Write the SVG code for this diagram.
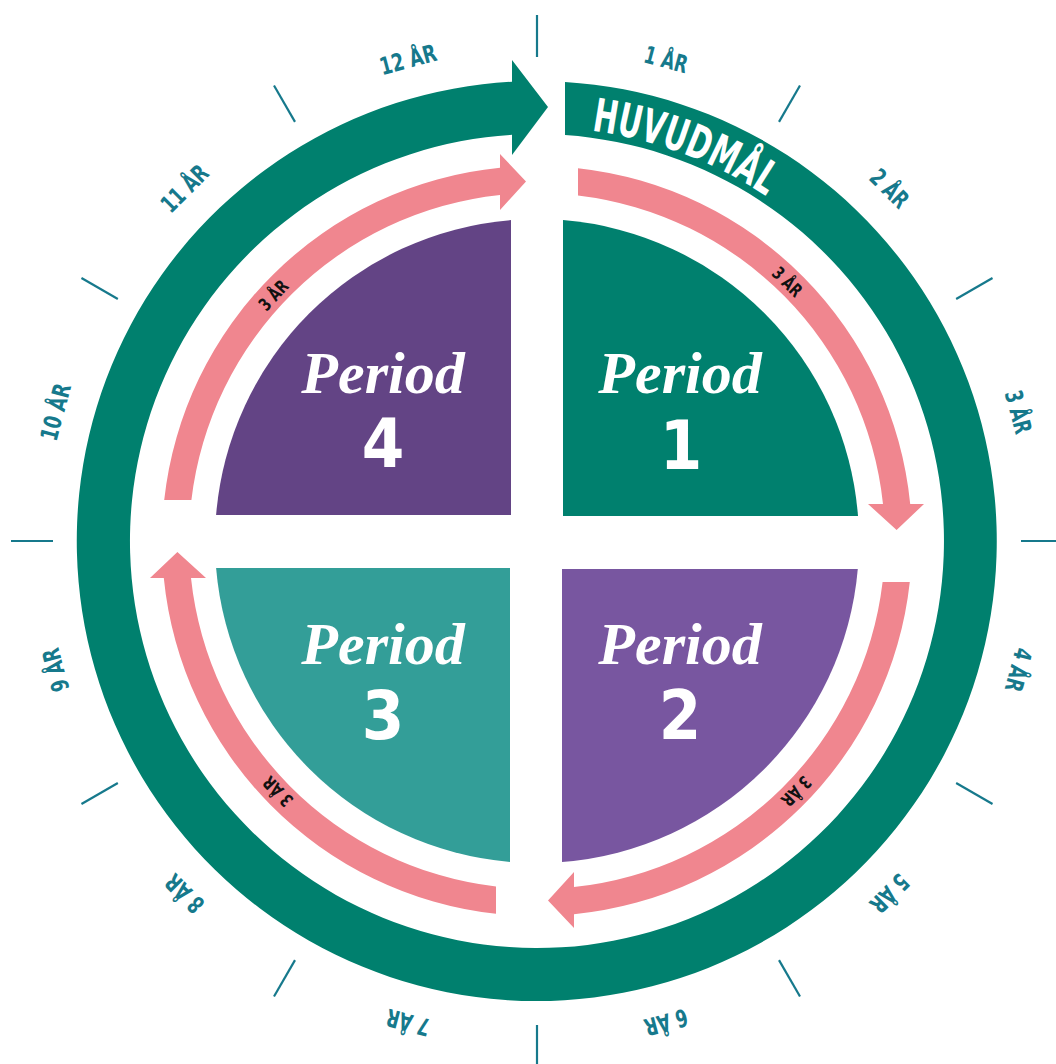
<svg xmlns="http://www.w3.org/2000/svg" width="1056" height="1064" viewBox="0 0 1056 1064">
<style>
.yr{font-family:"DejaVu Sans Condensed","DejaVu Sans",sans-serif;font-stretch:condensed;font-weight:bold;font-size:24px;fill:#16798C;text-anchor:middle}
.tick{stroke:#16798C;stroke-width:2.2}
.pk{fill:#F0868F}
.pl{font-family:"DejaVu Sans Condensed","DejaVu Sans",sans-serif;font-stretch:condensed;font-weight:bold;font-size:18px;fill:#111;text-anchor:middle}
.per{font-family:"Liberation Serif","DejaVu Serif",serif;font-style:italic;font-weight:bold;font-size:60px;fill:#fff;text-anchor:middle}
.num{font-family:"DejaVu Sans Condensed","DejaVu Sans",sans-serif;font-stretch:condensed;font-weight:bold;font-size:68px;fill:#fff;text-anchor:middle}
.main{font-family:"DejaVu Sans Condensed","DejaVu Sans",sans-serif;font-stretch:condensed;font-weight:bold;font-size:46px;fill:#fff}
</style>
<defs>
<path id="pinkArrow" d="M 41 -372.8 A 375 375 0 0 1 373.2 -37 L 387 -37 L 359.6 -11 L 331 -37 L 346 -37 A 348 348 0 0 0 41 -345.6 Z"/>
<path id="mainPath" d="M 465.1 133.3 A 414 414 0 0 1 951 541" fill="none"/>
</defs>
<rect width="1056" height="1064" fill="#fff"/>

<g id="ticks">
<g transform="translate(537 541)">
<line class="tick" x1="0" y1="-484" x2="0" y2="-526" transform="rotate(0)"/>
<line class="tick" x1="0" y1="-484" x2="0" y2="-526" transform="rotate(30)"/>
<line class="tick" x1="0" y1="-484" x2="0" y2="-526" transform="rotate(60)"/>
<line class="tick" x1="0" y1="-484" x2="0" y2="-526" transform="rotate(90)"/>
<line class="tick" x1="0" y1="-484" x2="0" y2="-526" transform="rotate(120)"/>
<line class="tick" x1="0" y1="-484" x2="0" y2="-526" transform="rotate(150)"/>
<line class="tick" x1="0" y1="-484" x2="0" y2="-526" transform="rotate(180)"/>
<line class="tick" x1="0" y1="-484" x2="0" y2="-526" transform="rotate(210)"/>
<line class="tick" x1="0" y1="-484" x2="0" y2="-526" transform="rotate(240)"/>
<line class="tick" x1="0" y1="-484" x2="0" y2="-526" transform="rotate(270)"/>
<line class="tick" x1="0" y1="-484" x2="0" y2="-526" transform="rotate(300)"/>
<line class="tick" x1="0" y1="-484" x2="0" y2="-526" transform="rotate(330)"/>
</g>
</g>

<g id="year-labels">
<text class="yr" x="537" y="51" textLength="44" lengthAdjust="spacingAndGlyphs" transform="rotate(15 537 541)">1 ÅR</text>
<text class="yr" x="537" y="51" textLength="44" lengthAdjust="spacingAndGlyphs" transform="rotate(45 537 541)">2 ÅR</text>
<text class="yr" x="537" y="51" textLength="44" lengthAdjust="spacingAndGlyphs" transform="rotate(75 537 541)">3 ÅR</text>
<text class="yr" x="537" y="51" textLength="44" lengthAdjust="spacingAndGlyphs" transform="rotate(105 537 541)">4 ÅR</text>
<text class="yr" x="537" y="51" textLength="44" lengthAdjust="spacingAndGlyphs" transform="rotate(135 537 541)">5 ÅR</text>
<text class="yr" x="537" y="51" textLength="44" lengthAdjust="spacingAndGlyphs" transform="rotate(165 537 541)">6 ÅR</text>
<text class="yr" x="537" y="51" textLength="44" lengthAdjust="spacingAndGlyphs" transform="rotate(195 537 541)">7 ÅR</text>
<text class="yr" x="537" y="51" textLength="44" lengthAdjust="spacingAndGlyphs" transform="rotate(225 537 541)">8 ÅR</text>
<text class="yr" x="537" y="51" textLength="44" lengthAdjust="spacingAndGlyphs" transform="rotate(255 537 541)">9 ÅR</text>
<text class="yr" x="537" y="51" textLength="58" lengthAdjust="spacingAndGlyphs" transform="rotate(285 537 541)">10 ÅR</text>
<text class="yr" x="537" y="51" textLength="56" lengthAdjust="spacingAndGlyphs" transform="rotate(315 537 541)">11 ÅR</text>
<text class="yr" x="537" y="51" textLength="58" lengthAdjust="spacingAndGlyphs" transform="rotate(345 537 541)">12 ÅR</text>
</g>

<g id="main-goal">
<path d="M 565 81.9 A 460 460 0 1 1 512 81.7 L 512 60 L 548 107 L 512 155 L 512 134.8 A 407 407 0 1 0 565 135 Z" fill="#00806E"/>
<text class="main"><textPath href="#mainPath" startOffset="127" textLength="188" lengthAdjust="spacingAndGlyphs">HUVUDMÅL</textPath></text>
</g>

<g id="connectors">
<use href="#pinkArrow" class="pk" transform="translate(537 541)"/>
<use href="#pinkArrow" class="pk" transform="translate(537 541) rotate(90)"/>
<use href="#pinkArrow" class="pk" transform="translate(537 541) rotate(180)"/>
<use href="#pinkArrow" class="pk" transform="translate(537 541) rotate(270)"/>
<text class="pl" x="537" y="187" textLength="34" lengthAdjust="spacingAndGlyphs" transform="rotate(44 537 541)">3 ÅR</text>
<text class="pl" x="537" y="187" textLength="34" lengthAdjust="spacingAndGlyphs" transform="rotate(134 537 541)">3 ÅR</text>
<text class="pl" x="537" y="187" textLength="34" lengthAdjust="spacingAndGlyphs" transform="rotate(226 537 541)">3 ÅR</text>
<text class="pl" x="537" y="187" textLength="34" lengthAdjust="spacingAndGlyphs" transform="rotate(313 537 541)">3 ÅR</text>
</g>

<g id="period-1">
<path d="M 563 516 L 563 220.1 A 322 322 0 0 1 858 516 Z" fill="#00806E"/>
<text class="per" x="680" y="393">Period</text>
<text class="num" x="681" y="469">1</text>
</g>
<g id="period-2">
<path d="M 562 569 L 857.8 569 A 322 322 0 0 1 562 862 Z" fill="#7856A0"/>
<text class="per" x="680" y="664">Period</text>
<text class="num" x="680" y="739">2</text>
</g>
<g id="period-3">
<path d="M 510 568 L 510 861.9 A 322 322 0 0 1 216.1 568 Z" fill="#339E98"/>
<text class="per" x="383" y="664">Period</text>
<text class="num" x="383" y="739">3</text>
</g>
<g id="period-4">
<path d="M 511 515 L 216.1 515 A 322 322 0 0 1 511 220.1 Z" fill="#634485"/>
<text class="per" x="383" y="393">Period</text>
<text class="num" x="383" y="467">4</text>
</g>
</svg>
